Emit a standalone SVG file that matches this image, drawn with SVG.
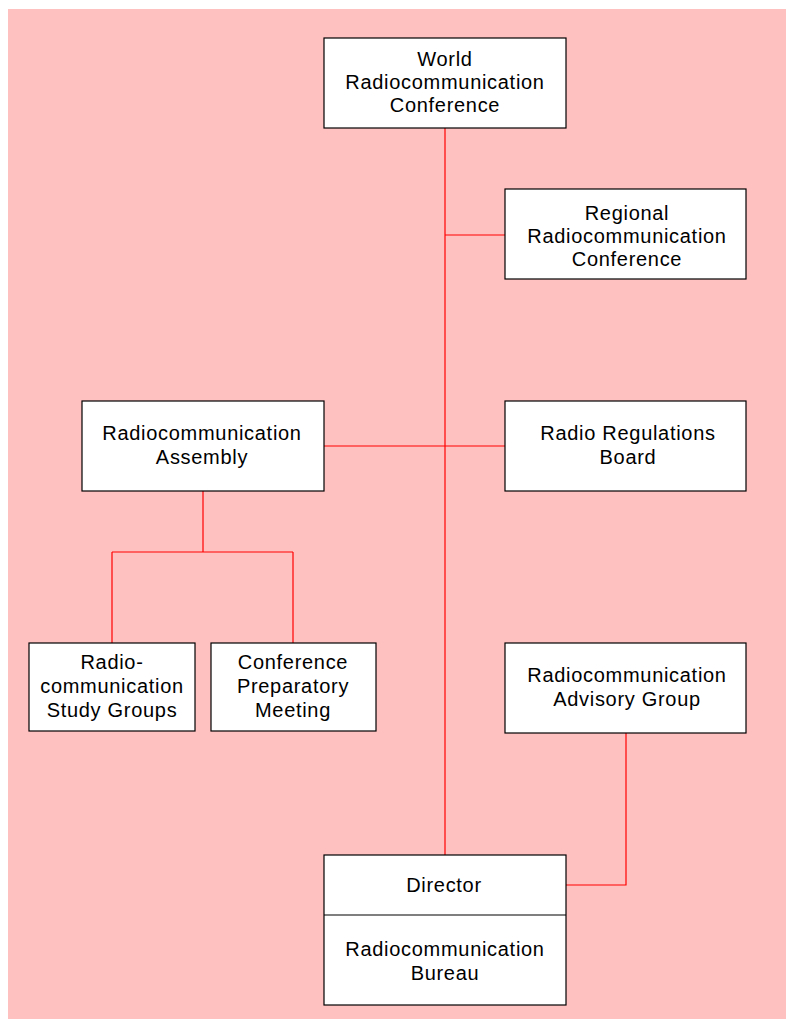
<svg xmlns="http://www.w3.org/2000/svg" width="786" height="1019" viewBox="0 0 786 1019">
<style>
.box{fill:#ffffff;stroke:#000000;stroke-width:1.2}
.t{font-family:"Liberation Sans",Arial,sans-serif;font-size:20px;letter-spacing:0.7px;fill:#000000;text-anchor:middle}
.c{stroke:#ff0000;stroke-width:1.2;fill:none}
</style>
<rect x="8" y="9" width="778" height="1010" fill="#ffc0c0"/>
<g id="connectors">
<path class="c" d="M445 128V855"/>
<path class="c" d="M445 235H505"/>
<path class="c" d="M324 446H505"/>
<path class="c" d="M203 491V552M112 552H293M112 552V643M293 552V643"/>
<path class="c" d="M626 733V885H566"/>
</g>
<g id="wrc">
<rect class="box" x="324" y="38" width="242" height="90"/>
<text class="t" x="445" y="66">World</text>
<text class="t" x="445" y="89">Radiocommunication</text>
<text class="t" x="445" y="112">Conference</text>
</g>
<g id="rrc">
<rect class="box" x="505" y="189" width="241" height="90"/>
<text class="t" x="627" y="220">Regional</text>
<text class="t" x="627" y="243">Radiocommunication</text>
<text class="t" x="627" y="266">Conference</text>
</g>
<g id="ra">
<rect class="box" x="82" y="401" width="242" height="90"/>
<text class="t" x="202" y="440">Radiocommunication</text>
<text class="t" x="202" y="464">Assembly</text>
</g>
<g id="rrb">
<rect class="box" x="505" y="401" width="241" height="90"/>
<text class="t" x="628" y="440">Radio Regulations</text>
<text class="t" x="628" y="464">Board</text>
</g>
<g id="rsg">
<rect class="box" x="29" y="643" width="166" height="88"/>
<text class="t" x="112" y="669">Radio-</text>
<text class="t" x="112" y="693">communication</text>
<text class="t" x="112" y="717">Study Groups</text>
</g>
<g id="cpm">
<rect class="box" x="211" y="643" width="165" height="88"/>
<text class="t" x="293" y="669">Conference</text>
<text class="t" x="293" y="693">Preparatory</text>
<text class="t" x="293" y="717">Meeting</text>
</g>
<g id="rag">
<rect class="box" x="505" y="643" width="241" height="90"/>
<text class="t" x="627" y="682">Radiocommunication</text>
<text class="t" x="627" y="706">Advisory Group</text>
</g>
<g id="director">
<rect class="box" x="324" y="855" width="242" height="150"/>
<line x1="324" y1="915" x2="566" y2="915" stroke="#000000" stroke-width="1.2"/>
<text class="t" x="444" y="892">Director</text>
<text class="t" x="445" y="956">Radiocommunication</text>
<text class="t" x="445" y="980">Bureau</text>
</g>
</svg>
